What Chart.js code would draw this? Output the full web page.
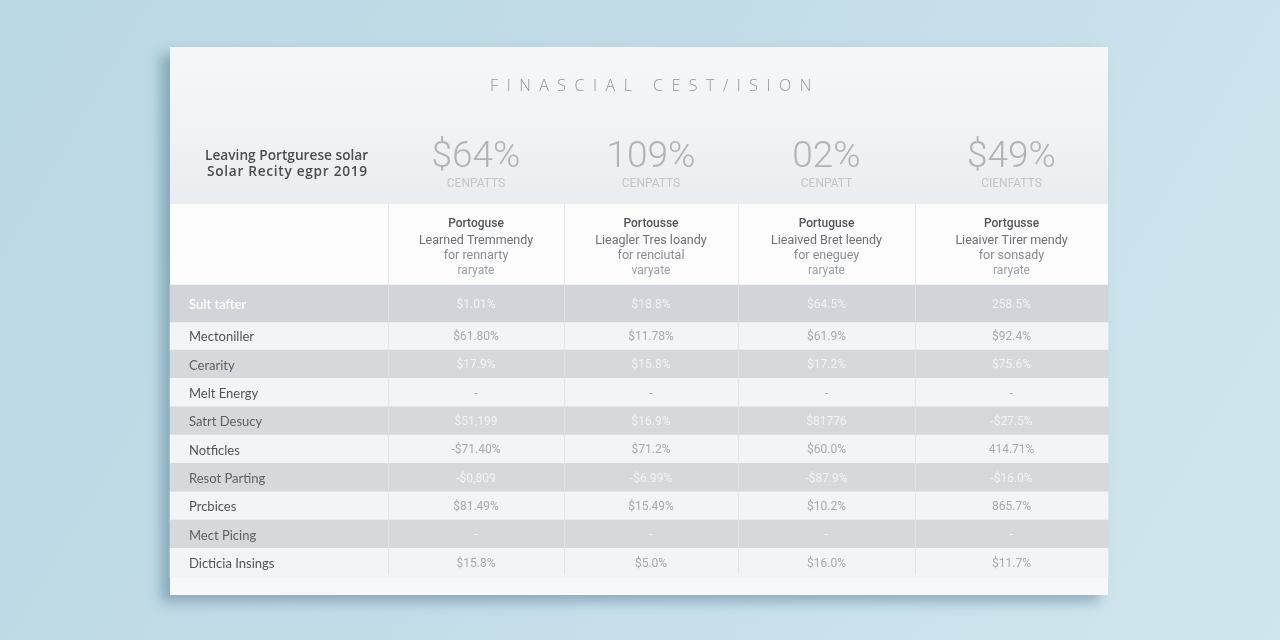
<!DOCTYPE html>
<html>
<head>
<meta charset="utf-8">
<script src="https://cdn.jsdelivr.net/npm/chart.js@4.4.1/dist/chart.umd.min.js"></script>
<style>
html,body{margin:0;padding:0;width:1280px;height:640px;overflow:hidden;}
body{background:linear-gradient(120deg,#bad8e4 0%,#c3dde8 45%,#d0e6ee 100%);position:relative;font-family:"Open Sans",sans-serif;}
#card{position:absolute;left:170px;top:47px;width:938px;height:548px;background:#f7f8f9;box-shadow:-9px 7px 12px rgba(50,95,120,0.40);}
#head{position:absolute;left:0;top:0;width:100%;height:157px;background:linear-gradient(180deg,#f6f7f9 0%,#f0f2f4 55%,#eaedf0 100%);}
#sub{position:absolute;left:0;top:157px;width:100%;height:81px;background:#fdfdfd;}
#chart{position:absolute;left:0;top:0;}
</style>
</head>
<body>
<div id="card"><div id="head"></div><div id="sub"></div></div>
<canvas id="chart" width="1280" height="640"></canvas>
<script>
// ---- data ----
const titleText = "FINASCIAL CEST/ISION";
const headLabel = ["Leaving Portgurese solar", "Solar Recity egpr 2019"];
const bigValues = ["$64%", "109%", "02%", "$49%"];
const bigSubs = ["CENPATTS", "CENPATTS", "CENPATT", "CIENFATTS"];
const colHead1 = ["Portoguse", "Learned Tremmendy", "for rennarty", "raryate"];
const colHead2 = ["Portousse", "Lieagler Tres loandy", "for renciutal", "varyate"];
const colHead3 = ["Portuguse", "Lieaived Bret leendy", "for eneguey", "raryate"];
const colHead4 = ["Portgusse", "Lieaiver Tirer mendy", "for sonsady", "raryate"];
const rowLabels = ["Sult tafter", "Mectoniller", "Cerarity", "Melt Energy", "Satrt Desucy",
  "Notficles", "Resot Parting", "Prcbices", "Mect Picing", "Dicticia Insings"];
const col1 = ["$1.01%", "$61.80%", "$17.9%", "-", "$51,199", "-$71.40%", "-$0,809", "$81.49%", "-", "$15.8%"];
const col2 = ["$18.8%", "$11.78%", "$15.8%", "-", "$16.9%", "$71.2%", "-$6.99%", "$15.49%", "-", "$5.0%"];
const col3 = ["$64.5%", "$61.9%", "$17.2%", "-", "$81776", "$60.0%", "-$87.9%", "$10.2%", "-", "$16.0%"];
const col4 = ["258.5%", "$92.4%", "$75.6%", "-", "-$27.5%", "414.71%", "-$16.0%", "865.7%", "-", "$11.7%"];

// ---- layout (table units = px across / down the table body) ----
const W = 938;
const colEdges = [0, 218, 394, 568, 745, 938];
const HEAD_H = 37, ROW_H = 28.33;
const TABLE_H = HEAD_H + ROW_H * (rowLabels.length - 1) + 1;
const rowCenter = r => r === 0 ? HEAD_H / 2 : HEAD_H + ROW_H * (r - 0.5);
const valueCols = [col1, col2, col3, col4];
const headCols = [colHead1, colHead2, colHead3, colHead4];

const GRAY = '#d6d9dc', GRAY0 = '#d1d4d8', LIGHT = '#f3f4f5';

const tablePlugin = {
  id: 'tableText',
  afterDatasetsDraw(chart) {
    const ctx = chart.ctx, x = chart.scales.x, y = chart.scales.y;
    const cx = i => x.getPixelForValue((colEdges[i + 1] + colEdges[i + 2]) / 2);
    ctx.save();
    // vertical dividers
    ctx.strokeStyle = 'rgba(224,228,232,0.85)';
    ctx.lineWidth = 1;
    for (let i = 1; i < colEdges.length - 1; i++) {
      const px = Math.round(x.getPixelForValue(colEdges[i])) + 0.5;
      ctx.beginPath(); ctx.moveTo(px, 204); ctx.lineTo(px, chart.chartArea.bottom - 4); ctx.stroke();
    }
    // title
    ctx.textAlign = 'center'; ctx.textBaseline = 'middle';
    ctx.fillStyle = '#92969b';
    ctx.font = '300 16px "Open Sans"';
    ctx.letterSpacing = '8.5px';
    ctx.fillText(titleText, (x.left + x.right) / 2 + 16, 86);
    // left header label
    ctx.textAlign = 'left';
    ctx.fillStyle = '#4a4d51';
    ctx.font = '600 13.7px "Open Sans"';
    ctx.letterSpacing = '0px';
    ctx.fillText(headLabel[0], 205, 156);
    ctx.letterSpacing = '0.7px';
    ctx.fillText(headLabel[1], 207, 172);
    ctx.letterSpacing = '0px';
    ctx.textAlign = 'center';
    // big values
    for (let i = 0; i < 4; i++) {
      ctx.fillStyle = '#b0b4b8';
      ctx.font = '300 37px Roboto';
      ctx.fillText(bigValues[i], cx(i), 158);
      ctx.fillStyle = '#c2c6ca';
      ctx.font = '12px Roboto';
      ctx.fillText(bigSubs[i], cx(i), 184);
      // column heads
      const h = headCols[i];
      ctx.fillStyle = '#505458'; ctx.font = '500 12px Roboto';
      ctx.fillText(h[0], cx(i), 224);
      ctx.fillStyle = '#6b6f73'; ctx.font = '12.5px Roboto';
      ctx.fillText(h[1], cx(i), 241);
      ctx.fillStyle = '#878b8f';
      ctx.fillText(h[2], cx(i), 256);
      ctx.fillStyle = '#9b9fa3'; ctx.font = '12px Roboto';
      ctx.fillText(h[3], cx(i), 271);
    }
    // rows
    rowLabels.forEach((lab, r) => {
      const py = y.getPixelForValue(rowCenter(r)) + 1;
      const gray = r % 2 === 0;
      ctx.textAlign = 'left';
      if (r === 0) { ctx.fillStyle = '#ffffff'; ctx.font = '600 13px Lato'; }
      else { ctx.fillStyle = gray ? '#5c6064' : '#505458'; ctx.font = '13px Lato'; }
      ctx.fillText(lab, x.getPixelForValue(19), py);
      ctx.textAlign = 'center';
      ctx.font = '12px Roboto';
      ctx.fillStyle = gray ? '#f1f3f5' : '#a6aaae';
      valueCols.forEach((c, i) => ctx.fillText(c[r], cx(i), py));
    });
    ctx.restore();
  }
};

new Chart(document.getElementById('chart'), {
  type: 'bar',
  data: {
    datasets: [
      {
        label: 'header row',
        data: [{ x: [0, W], y: rowCenter(0) }],
        backgroundColor: GRAY0,
        barThickness: HEAD_H,
        grouped: false,
        clip: false,
        order: 0
      },
      {
        label: 'body rows',
        data: rowLabels.slice(1).map((_, k) => ({ x: [0, W], y: rowCenter(k + 1) })),
        backgroundColor: rowLabels.slice(1).map((_, k) => (k + 1) % 2 === 0 ? GRAY : LIGHT),
        barThickness: ROW_H + 0.5,
        grouped: false,
        clip: false,
        order: 1
      }
    ]
  },
  options: {
    indexAxis: 'y',
    responsive: false,
    animation: false,
    devicePixelRatio: 1,
    layout: { padding: { left: 170, right: 172, top: 285, bottom: 640 - 285 - TABLE_H } },
    scales: {
      x: { type: 'linear', min: 0, max: W, display: false, offset: false },
      y: { type: 'linear', min: 0, max: TABLE_H, reverse: true, display: false, offset: false, grace: 0 }
    },
    plugins: { legend: { display: false }, tooltip: { enabled: false }, title: { display: false } }
  },
  plugins: [tablePlugin]
});
</script>
</body>
</html>
